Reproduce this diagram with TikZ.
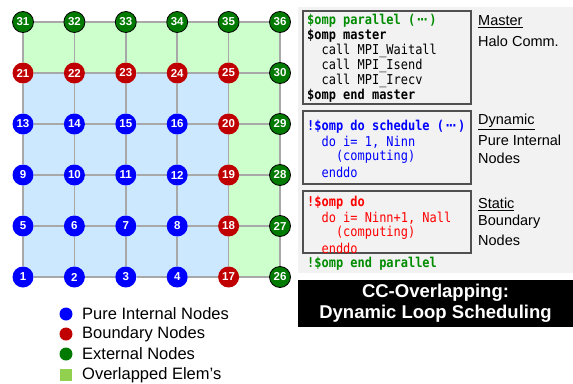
\documentclass[tikz,border=0pt]{standalone}
\usepackage{fontspec}
\setmainfont{Liberation Sans}
\newfontfamily\codefont[FakeStretch=0.88]{DejaVu Sans Mono}
\usetikzlibrary{backgrounds}

\definecolor{intblue}{HTML}{0000FF}
\definecolor{bndred}{HTML}{C00000}
\definecolor{extgreen}{HTML}{007A00}
\definecolor{regblue}{HTML}{CCE8FF}
\definecolor{reggreen}{HTML}{CCFFCC}
\definecolor{gridgray}{HTML}{A8A8A8}
\definecolor{panelgray}{HTML}{F2F2F2}
\definecolor{boxedge}{HTML}{505050}
\definecolor{codegreen}{HTML}{008C00}
\definecolor{codered}{HTML}{FF0000}
\definecolor{codeblue}{HTML}{0000FF}
\definecolor{overlapgreen}{HTML}{92D050}

% centred dots used inside "( ... )"
\newcommand{\cdotsmono}{·\kern-0.28em·\kern-0.28em·}

\tikzset{
  gridpt/.style={circle, minimum size=21pt, inner sep=0pt, text=white,
                 font=\fontsize{11.5}{11.5}\selectfont\bfseries},
  intnode/.style={gridpt, fill=intblue},
  bndnode/.style={gridpt, fill=bndred},
  extnode/.style={gridpt, fill=extgreen, draw=black, line width=0.8pt},
  gridline/.style={draw=gridgray, line width=1.6pt},
  codeline/.style={anchor=west, inner sep=0pt, font=\codefont\fontsize{13.6}{14}\selectfont},
  codebold/.style={codeline, font=\codefont\fontsize{13.6}{14}\selectfont\bfseries},
  codebox/.style={draw=boxedge, line width=1.2pt, fill=panelgray},
  sidelabel/.style={anchor=west, inner sep=0pt, font=\fontsize{14.5}{15}\selectfont},
  legendtext/.style={anchor=west, inner sep=0pt, font=\fontsize{16.5}{17}\selectfont},
  legenddot/.style={circle, minimum size=13pt, inner sep=0pt},
}

\begin{document}
\begin{tikzpicture}[x=1pt, y=-1pt]
\useasboundingbox (0,0) rectangle (573,383);

% ---------- mesh nodes (numbered row by row from the bottom) ----------
\foreach \yy/\row in {
  277/{1/intnode,2/intnode,3/intnode,4/intnode,17/bndnode,26/extnode},
  226/{5/intnode,6/intnode,7/intnode,8/intnode,18/bndnode,27/extnode},
  175/{9/intnode,10/intnode,11/intnode,12/intnode,19/bndnode,28/extnode},
  124/{13/intnode,14/intnode,15/intnode,16/intnode,20/bndnode,29/extnode},
  73/{21/bndnode,22/bndnode,23/bndnode,24/bndnode,25/bndnode,30/extnode},
  22/{31/extnode,32/extnode,33/extnode,34/extnode,35/extnode,36/extnode}} {
  \pgfmathtruncatemacro{\rr}{round((277-\yy)/51)+1}
  \foreach \num/\sty [count=\cc] in \row {
    \node[\sty] (g-\cc-\rr) at ({23+(\cc-1)*51.4}, \yy) {\num};
  }
}

\begin{pgfonlayer}{background}
  % element regions
  \fill[regblue] (g-1-1.center) rectangle (g-5-5.center);
  \fill[reggreen] (g-1-6.center) -- (g-6-6.center) -- (g-6-1.center)
                  -- (g-5-1.center) -- (g-5-5.center) -- (g-1-5.center) -- cycle;
  % mesh lines
  \foreach \r in {1,...,6} {
    \foreach \c [evaluate=\c as \cn using int(\c+1)] in {1,...,5} {
      \draw[gridline] (g-\c-\r) -- (g-\cn-\r);
      \draw[gridline] (g-\r-\c) -- (g-\r-\cn);
    }
  }
\end{pgfonlayer}

% ---------- legend ----------
\node[legenddot, fill=intblue] (leg1) at (66,314) {};
\node[legenddot, fill=bndred] (leg2) at (66,334) {};
\node[legenddot, fill=extgreen] (leg3) at (66,354) {};
\node[minimum size=12pt, inner sep=0pt, fill=overlapgreen] (leg4) at (66,375) {};
\node[legendtext] (legt1) at (82,314) {Pure Internal Nodes};
\node[legendtext] (legt2) at (82,334) {Boundary Nodes};
\node[legendtext] (legt3) at (82,354) {External Nodes};
\node[legendtext] (legt4) at (82,375) {Overlapped Elem’s};

% ---------- code panel ----------
\fill[panelgray] (298,7) rectangle (573,273);
\draw[codebox] (303,11) rectangle (471,104);
\draw[codebox] (303,111) rectangle (471,184);
\draw[codebox] (303,191) rectangle (471,253);

\node[codebold, text=codegreen] (c1) at (307,20.5) {\$omp parallel (\cdotsmono)};
\node[codebold] (c2) at (307,35.5) {\$omp master};
\node[codeline] (c3) at (307,50.5) {\phantom{cc}call MPI\_Waitall};
\node[codeline] (c4) at (307,65.5) {\phantom{cc}call MPI\_Isend};
\node[codeline] (c5) at (307,80.5) {\phantom{cc}call MPI\_Irecv};
\node[codebold] (c6) at (307,96) {\$omp end master};

\node[codebold, text=codeblue] (c7) at (307,127) {!\$omp do schedule (\cdotsmono)};
\node[codeline, text=codeblue] (c8) at (307,142) {\phantom{cc}do i= 1, Ninn};
\node[codeline, text=codeblue] (c9) at (307,157) {\phantom{cccc}(computing)};
\node[codeline, text=codeblue] (c10) at (307,172) {\phantom{cc}enddo};

\node[codebold, text=codered] (c11) at (307,203) {!\$omp do};
\node[codeline, text=codered] (c12) at (307,218) {\phantom{cc}do i= Ninn+1, Nall};
\node[codeline, text=codered] (c13) at (307,233) {\phantom{cccc}(computing)};
\node[codeline, text=codered] (c14) at (307,248) {\phantom{cc}enddo};
\node[codebold, text=codegreen] (c15) at (307,264) {!\$omp end parallel};

% ---------- side labels ----------
\node[sidelabel] (m1) at (478,22) {\underline{Master}};
\node[sidelabel] (m2) at (478,41) {Halo Comm.};
\node[sidelabel] (d1) at (478,122) {\underline{Dynamic}};
\node[sidelabel] (d2) at (478,140) {Pure Internal};
\node[sidelabel] (d3) at (478,158) {Nodes};
\node[sidelabel] (s1) at (478,204) {\underline{Static}};
\node[sidelabel] (s2) at (478,222) {Boundary};
\node[sidelabel] (s3) at (478,240) {Nodes};

% ---------- title ----------
\node[fill=black, text=white, minimum width=275pt, minimum height=47pt, inner sep=0pt,
      align=center, font=\fontsize{18.5}{21}\selectfont\bfseries]
  (title) at (435.5,303.5) {CC-Overlapping:\\Dynamic Loop Scheduling};
\end{tikzpicture}
\end{document}
